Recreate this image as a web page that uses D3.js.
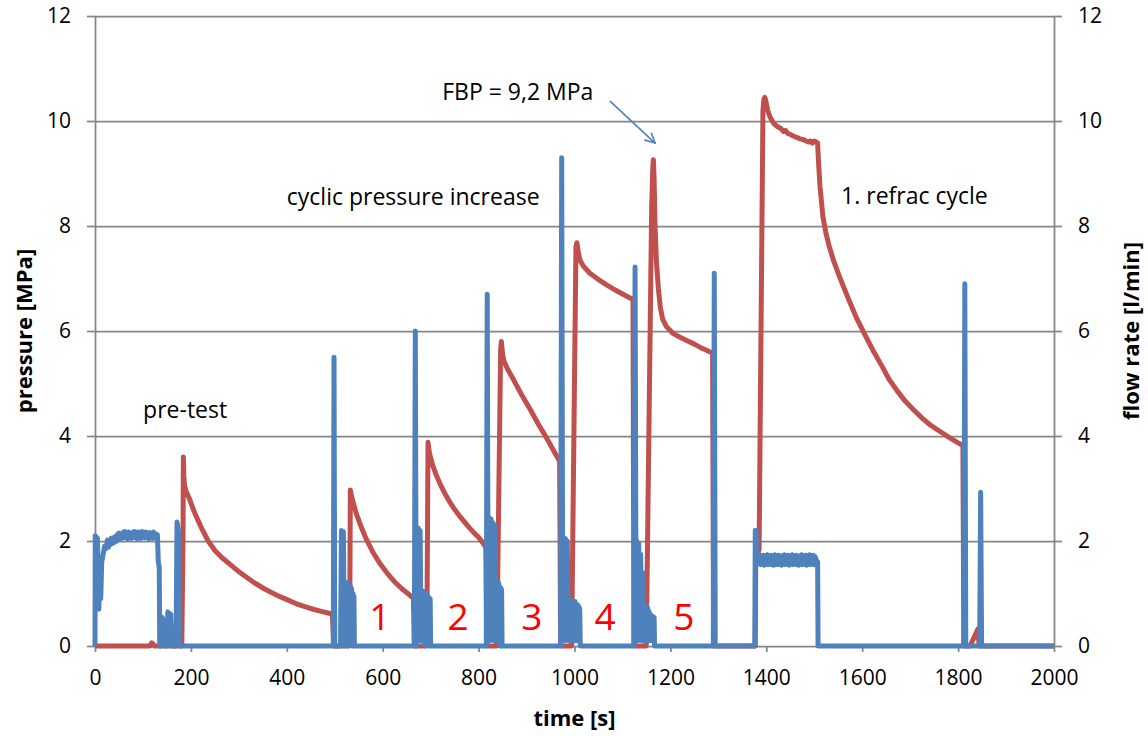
<!DOCTYPE html>
<html lang="en">
<head>
<meta charset="UTF-8">
<title>Hydraulic fracturing test: pressure and flow rate</title>
<script src="https://d3js.org/d3.v7.min.js"></script>
<style>
  body { margin: 0; background: #fff; }
  svg { display: block; font-family: "Open Sans", sans-serif; }
  .axis text { font-size: 21px; fill: #000; font-family: "Open Sans", sans-serif; }
  .axis path, .axis line { stroke: #868686; stroke-width: 1.75; }
  .grid line { stroke: #868686; stroke-width: 1.75; }
  .grid path { display: none; }
  .title { font-size: 22px; font-weight: bold; fill: #000; }
  .note { font-size: 23px; fill: #000; }
  .cycle { font-size: 37px; fill: #ff0000; }
</style>
</head>
<body>
<svg id="chart" width="1148" height="736"></svg>
<script>
// ---- data: [time s, value] ----
const timeTicks = [0, 200, 400, 600, 800, 1000, 1200, 1400, 1600, 1800, 2000];
const pressureTicks = [0, 2, 4, 6, 8, 10, 12];
const flowTicks = [0, 2, 4, 6, 8, 10, 12];

// pressure [MPa]
const pressurePreTest = [[0,0],[115,0],[118,0.06],[121,0.04],[124,0],[181,0],[183.5,2.0],[184.3,3.6],[185.2,3.25],
  [186.5,3.07],[190,2.95],[198,2.78],[205,2.6],[212,2.45],[222,2.25],[236,2.0],[250,1.82],[265,1.68],[281,1.56],
  [298,1.43],[316,1.31],[333,1.2],[351,1.1],[368,1.02],[386,0.94],[404,0.87],[421,0.8],[438,0.75],[455,0.7],
  [472,0.66],[490,0.62],[495,0.6],[498,0]];
const pressureCycles = [[531,0],[532.5,2.97],[534.5,2.88],[537,2.78],[545,2.52],[555,2.27],[565,2.05],[580,1.78],
  [595,1.56],[610,1.38],[625,1.22],[640,1.09],[655,0.98],[664,0.91],[666,0],
  [692,0],[694.5,3.88],[697,3.7],[700,3.58],[705,3.42],[712,3.25],[720,3.08],[730,2.9],[740,2.74],[750,2.6],
  [760,2.48],[770,2.37],[780,2.26],[790,2.16],[800,2.07],[810,1.95],[815,1.88],[817,0],
  [838,0],[846,5.65],[847.5,5.8],[849.5,5.6],[852,5.45],[860,5.28],[873,5.07],[890,4.78],[908,4.5],[925,4.22],
  [942,3.96],[956,3.73],[969,3.52],[971,0],
  [994,0],[1003,7.6],[1005,7.68],[1008,7.5],[1011,7.36],[1018,7.24],[1032,7.1],[1050,6.98],[1067,6.88],
  [1085,6.78],[1105,6.68],[1122,6.6],[1124,0],
  [1149.5,0],[1150.6,0.7],[1161,8.4],[1163.5,9.15],[1164.5,9.26],[1166,8.9],[1168,8.0],[1171,7.3],[1175,6.8],
  [1179,6.45],[1184,6.22],[1192,6.08],[1206,5.95],[1220,5.88],[1234,5.82],[1250,5.75],[1266,5.67],[1283,5.6],
  [1288,5.58],[1290,0]];
const pressureRefrac = [[1377,0],[1378,1.6],[1385,1.85],[1393,10.2],[1395,10.42],[1397,10.45],[1399,10.38],
  [1403,10.2],[1408,10.07],[1415,9.96],[1422,9.9],[1430,9.86],[1436,9.8],[1440,9.82],[1445,9.76],[1449,9.75],
  [1455,9.72],[1460,9.7],[1466,9.68],[1470,9.66],[1476,9.65],[1483,9.62],[1488,9.6],[1492,9.62],[1496,9.58],
  [1500,9.62],[1504,9.6],[1507,9.58],[1509,9.2],[1512,8.75],[1518,8.18],[1524,7.88],[1531,7.62],[1541,7.32],
  [1552,7.05],[1570,6.64],[1587,6.27],[1605,5.94],[1622,5.64],[1640,5.35],[1656,5.08],[1673,4.86],[1690,4.66],
  [1708,4.49],[1725,4.34],[1742,4.21],[1760,4.1],[1782,3.97],[1800,3.87],[1810,3.82],[1812,0],[1825,0],
  [1841,0.32],[1844,0],[2000,0]];

// flow rate [l/min]
const flowStart = [[0,0],[0.5,2.1],[5,2.05],[7,1.3],[8,0.7],[10,1.5],[12,0.9],[14,1.6],[17,1.75],[20,1.9],[22,1.85]];
// pre-test injection, sampled every 2 s from t = 24 s
const preTestPlateauStart = 24;
const preTestPlateau = [
  1.90,2.02,1.88,2.00,1.93,2.05,1.95,2.06,1.97,2.08,
  1.99,2.12,2.02,2.15,2.04,2.13,2.05,2.16,2.06,2.18,
  2.08,2.14,2.04,2.17,2.07,2.15,2.05,2.16,2.08,2.18,
  2.06,2.14,2.04,2.17,2.06,2.15,2.05,2.18,2.08,2.15,
  2.06,2.17,2.07,2.14,2.04,2.16,2.06,2.15,2.05,2.17,
  2.07,2.14,2.05,2.12];
const flowCycles = [[131,1.9],[132,1.6],[134,1.5],[135,0],[138,0],[140,0.55],[142,0.1],[144,0.5],[146,0],[150,0],
  [152,0.65],[154,0.2],[156,0.62],[158,0.6],[160,0],[169,0],[171,2.36],[173,2.25],[175,2.1],[177,0],
  [497,0],[498.5,5.5],[500,0],
  [512,0],[514,2.2],[516,0.1],[518,2.18],[520,0],[522,1.22],[523,0.1],[524,1.2],[526,0.1],[527,1.2],[528,0],
  [530,1.18],[531,0.1],[532,1.15],[534,0.1],[535,1.1],[536,0],[538,1.0],[539,0.1],[540,0.95],[541,0],
  [666,0],[668,6.0],[670,0],[672,0.2],[674,2.25],[676,0.1],[678,2.2],[680,0.2],[681,1.05],[682,0.1],[684,1.05],
  [685,0.1],[686,1.0],[688,0],[689,1.0],[690,0.1],[692,1.0],[693,0.1],[694,0.95],[696,0],[697,0.92],[698,0.1],
  [699,0.9],[700,0],
  [816,0],[818,6.7],[820,0.2],[822,2.45],[824,0.1],[826,2.42],[828,0.2],[830,2.35],[832,0.1],[834,2.3],
  [836,0.2],[837,1.25],[838,0.1],[840,1.22],[841,0.1],[842,1.2],[844,0],[845,1.12],[846,0.1],[847,1.1],
  [848,1.05],[849,0],
  [971,0],[973.3,9.3],[975.5,0.2],[977,2.05],[979,0.1],[981,2.05],[983,0.2],[985,2.0],[987,0.1],[988,0.88],
  [989,0.1],[991,0.88],[992,0.1],[993,0.85],[995,0.2],[996,0.82],[997,0.1],[999,0.8],[1000,0.1],[1001,0.85],
  [1003,0.1],[1004,0.8],[1005,0.1],[1007,0.78],[1008,0.2],[1009,0.75],[1011,0.7],[1012,0],
  [1124,0],[1126.3,7.22],[1128.5,0.2],[1130,2.0],[1132,0.1],[1134,1.95],[1136,0.2],[1138,1.75],[1140,0.1],
  [1142,1.4],[1144,0.2],[1145,0.8],[1146,0.1],[1148,0.78],[1149,0.1],[1150,0.75],[1152,0.2],[1153,0.72],
  [1154,0.1],[1156,0.65],[1157,0.1],[1158,0.6],[1160,0.2],[1161,0.58],[1162,0.1],[1164,0.56],[1165,0.1],
  [1166,0.55],[1167,0],
  [1289.5,0],[1291.5,7.1],[1293.5,0],[1376,0],[1377,2.2],[1379,2.2],[1380,1.7],[1382,1.78]];
// refrac injection, sampled every 2 s from t = 1384 s
const refracPlateauStart = 1384;
const refracPlateau = [
  1.60,1.74,1.55,1.72,1.57,1.73,1.54,1.70,1.56,1.74,
  1.55,1.71,1.57,1.73,1.55,1.70,1.54,1.74,1.56,1.72,
  1.55,1.73,1.57,1.70,1.54,1.72,1.56,1.74,1.55,1.71,
  1.57,1.73,1.54,1.70,1.56,1.74,1.55,1.72,1.57,1.73,
  1.55,1.70,1.54,1.72,1.56,1.74,1.55,1.71,1.57,1.73,
  1.54,1.70,1.56,1.74,1.55,1.72,1.57,1.73,1.55,1.70];
const flowEnd = [[1505,1.62],[1507,1.6],[1508,0],[1812,0],[1814,6.9],[1816,0],[1845,0],[1847,2.93],[1849,0],[2000,0]];

// annotations [time, pressure]
const cycleLabels = ["1", "2", "3", "4", "5"];
const cycleLabelTimes = [594, 757, 911, 1064, 1228];

// ---- drawing ----
const svg = d3.select("#chart");
svg.append("rect").attr("width", 1148).attr("height", 736).attr("fill", "#fff");

const x = d3.scaleLinear().domain([0, 2000]).range([95, 1054]);
const yP = d3.scaleLinear().domain([0, 12]).range([646, 16]);
const yQ = d3.scaleLinear().domain([0, 12]).range([646, 16]);

// horizontal grid
svg.append("g").attr("class", "grid")
  .attr("transform", `translate(${x(0)},0)`)
  .call(d3.axisLeft(yP).tickValues(pressureTicks.filter(v => v > 0))
    .tickSize(-(x(2000) - x(0))).tickFormat(""));

svg.append("g").attr("class", "axis")
  .attr("transform", `translate(${x(0)},0)`)
  .call(d3.axisLeft(yP).tickValues(pressureTicks).tickSize(8).tickSizeOuter(0).tickPadding(16));

svg.append("g").attr("class", "axis")
  .attr("transform", `translate(${x(2000)},0)`)
  .call(d3.axisRight(yQ).tickValues(flowTicks).tickSize(8).tickSizeOuter(0).tickPadding(16));

svg.append("g").attr("class", "axis")
  .attr("transform", `translate(0,${yP(0)})`)
  .call(d3.axisBottom(x).tickValues(timeTicks).tickFormat(d3.format("d"))
    .tickSize(6).tickSizeOuter(0).tickPadding(18));

// series
const pressure = pressurePreTest.concat(pressureCycles, pressureRefrac);
const flow = flowStart
  .concat(preTestPlateau.map((v, i) => [preTestPlateauStart + i * 2, v]))
  .concat(flowCycles)
  .concat(refracPlateau.map((v, i) => [refracPlateauStart + i * 2, v]))
  .concat(flowEnd);

svg.append("path")
  .datum(pressure)
  .attr("fill", "none")
  .attr("stroke", "#c0504d")
  .attr("stroke-width", 5)
  .attr("stroke-linejoin", "round")
  .attr("d", d3.line().x(d => x(d[0])).y(d => yP(d[1])));

svg.append("path")
  .datum(flow)
  .attr("fill", "none")
  .attr("stroke", "#4f81bd")
  .attr("stroke-width", 5)
  .attr("stroke-linejoin", "round")
  .attr("d", d3.line().x(d => x(d[0])).y(d => yQ(d[1])));

// axis titles
svg.append("text").attr("class", "title")
  .attr("transform", `translate(23,${yP(6)}) rotate(-90)`)
  .attr("text-anchor", "middle").attr("dominant-baseline", "central")
  .text("pressure [MPa]");
svg.append("text").attr("class", "title")
  .attr("transform", `translate(1130,${yQ(6)}) rotate(-90)`)
  .attr("text-anchor", "middle").attr("dominant-baseline", "central")
  .text("flow rate [l/min]");
svg.append("text").attr("class", "title")
  .attr("x", x(1000)).attr("y", 726)
  .attr("text-anchor", "middle")
  .text("time [s]");

// notes
svg.append("text").attr("class", "note")
  .attr("x", x(188)).attr("y", yP(4.34)).attr("text-anchor", "middle")
  .text("pre-test");
svg.append("text").attr("class", "note")
  .attr("x", x(400)).attr("y", yP(8.4))
  .text("cyclic pressure increase");
svg.append("text").attr("class", "note")
  .attr("x", x(1556)).attr("y", yP(8.42))
  .text("1. refrac cycle");
svg.append("text").attr("class", "note")
  .attr("x", x(724)).attr("y", yP(10.4))
  .text("FBP = 9,2 MPa");

svg.selectAll("text.cycle")
  .data(cycleLabels)
  .join("text")
  .attr("class", "cycle")
  .attr("x", (d, i) => x(cycleLabelTimes[i]))
  .attr("y", yP(0.3))
  .attr("text-anchor", "middle")
  .text(d => d);

// FBP arrow
svg.append("defs").append("marker")
  .attr("id", "open-arrow")
  .attr("viewBox", "0 0 12 12")
  .attr("refX", 11).attr("refY", 6)
  .attr("markerWidth", 12).attr("markerHeight", 12)
  .attr("markerUnits", "userSpaceOnUse")
  .attr("orient", "auto")
  .append("path")
  .attr("d", "M1,1 L11,6 L1,11")
  .attr("fill", "none")
  .attr("stroke", "#4f81bd")
  .attr("stroke-width", 1.6);

svg.append("line")
  .attr("x1", x(1074)).attr("y1", yP(10.38))
  .attr("x2", x(1168)).attr("y2", yP(9.58))
  .attr("stroke", "#4f81bd")
  .attr("stroke-width", 1.6)
  .attr("marker-end", "url(#open-arrow)");
</script>
</body>
</html>
